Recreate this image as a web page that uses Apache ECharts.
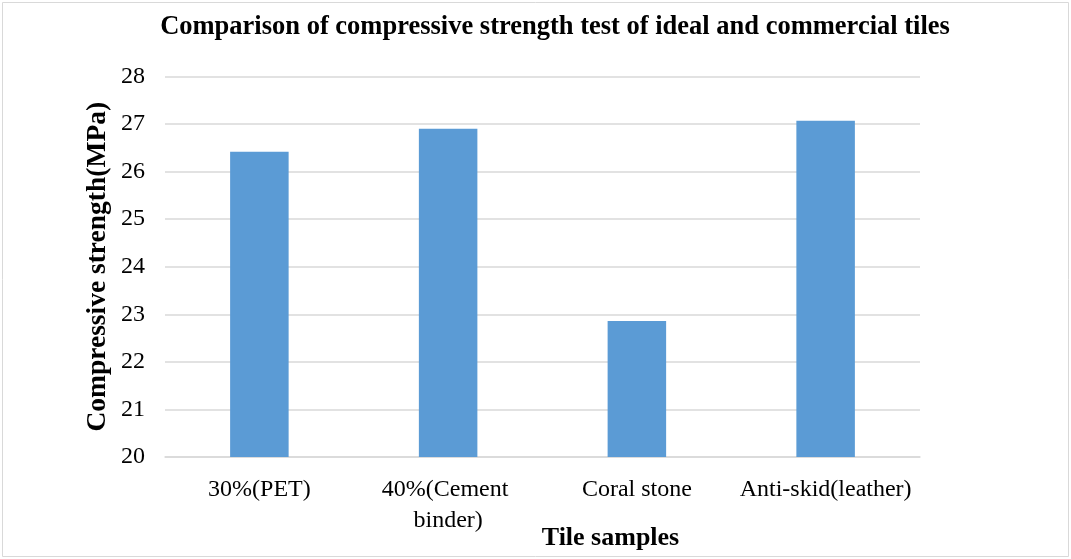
<!DOCTYPE html>
<html>
<head>
<meta charset="utf-8">
<script src="https://cdn.jsdelivr.net/npm/echarts@6/dist/echarts.min.js"></script>
<style>
html,body{margin:0;padding:0;background:#fff;}
#chart{width:1071px;height:559px;}
</style>
</head>
<body>
<div id="chart"></div>
<script>
const categories = ['30%(PET)', '40%(Cement binder)', 'Coral stone', 'Anti-skid(leather)'];
const strengthValues = [26.42, 26.90, 22.86, 27.07];
const yTicks = [20, 21, 22, 23, 24, 25, 26, 27, 28];

const FONT = '"Liberation Serif", "Times New Roman", serif';
const chart = echarts.init(document.getElementById('chart'));
chart.setOption({
  backgroundColor: '#ffffff',
  animation: false,
  title: {
    text: 'Comparison of compressive strength test of ideal and commercial tiles',
    left: 550,
    top: 9,
    textAlign: 'center',
    textStyle: { fontFamily: FONT, fontWeight: 'bold', fontSize: 26.5, color: '#000' }
  },
  graphic: [{
    type: 'rect',
    shape: { x: 2.5, y: 2.5, width: 1066, height: 554 },
    style: { fill: 'none', stroke: '#d9d9d9', lineWidth: 1 },
    silent: true
  }],
  grid: { left: 165, right: 151, top: 76.5, bottom: 102, containLabel: false, outerBoundsMode: 'none' },
  xAxis: {
    type: 'category',
    data: categories,
    name: 'Tile samples',
    nameLocation: 'middle',
    nameGap: 68,
    nameMoveOverlap: false,
    nameTextStyle: { fontFamily: FONT, fontWeight: 'bold', fontSize: 26, color: '#000', padding: [0, 0, 0, 136] },
    axisLine: { show: true, lineStyle: { color: '#d9d9d9', width: 1.5 } },
    axisTick: { show: false },
    axisLabel: {
      fontFamily: FONT, fontSize: 24, color: '#000', margin: 17,
      width: 186, overflow: 'break', lineHeight: 31, interval: 0
    }
  },
  yAxis: {
    type: 'value',
    min: 20,
    max: 28,
    interval: 1,
    name: 'Compressive strength(MPa)',
    nameLocation: 'middle',
    nameGap: 53,
    nameMoveOverlap: false,
    nameTextStyle: { fontFamily: FONT, fontWeight: 'bold', fontSize: 27.5, color: '#000' },
    axisLine: { show: false },
    axisTick: { show: false },
    axisLabel: {
      fontFamily: FONT, fontSize: 24, color: '#000', margin: 20,
      formatter: function (v) { return yTicks.indexOf(v) >= 0 ? String(v) : ''; }
    },
    splitLine: { show: true, lineStyle: { color: '#d9d9d9', width: 1.5 } }
  },
  series: [{
    type: 'bar',
    data: strengthValues,
    barWidth: '31%',
    itemStyle: { color: '#5b9bd5' }
  }]
});
</script>
</body>
</html>
